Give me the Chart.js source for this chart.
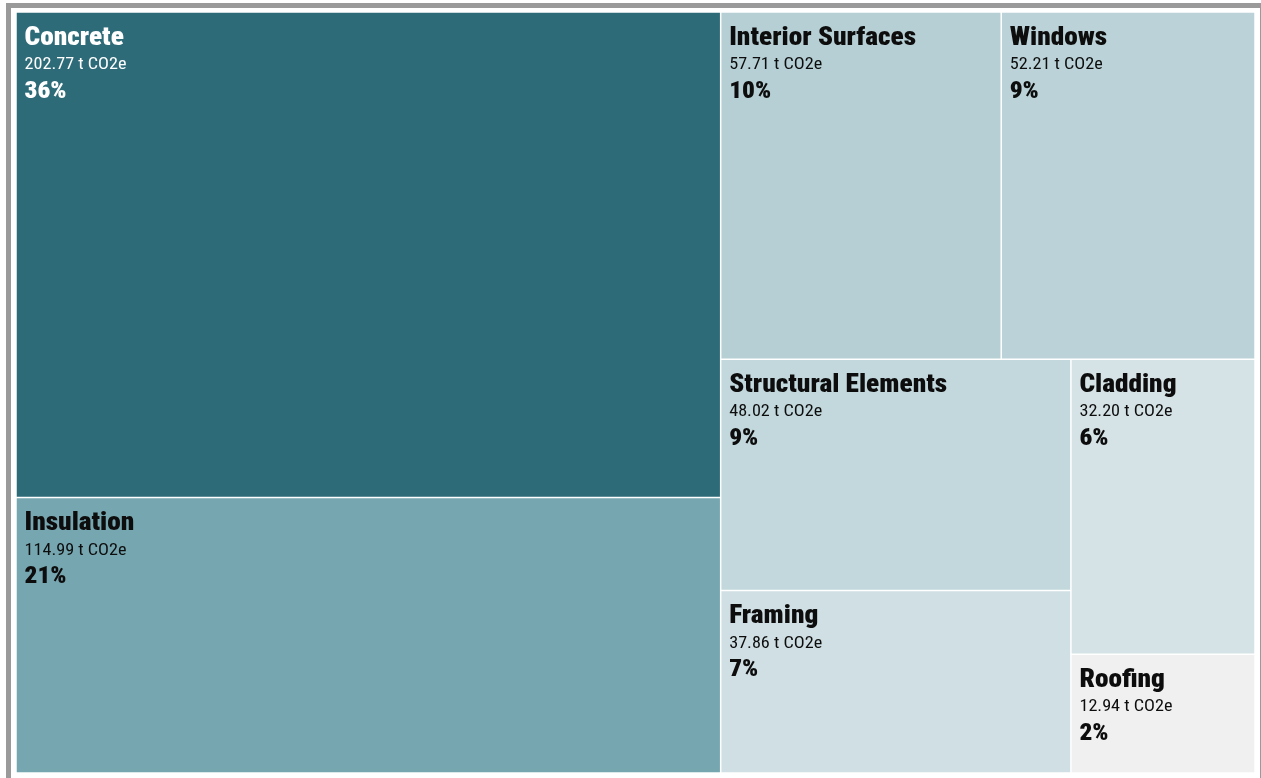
<!DOCTYPE html>
<html>
<head>
<meta charset="utf-8">
<title>Embodied carbon by material</title>
<script src="https://cdn.jsdelivr.net/npm/chart.js@4.4.1/dist/chart.umd.min.js"></script>
<style>
  html, body { margin: 0; padding: 0; background: #ffffff; overflow: hidden; width: 1261px; height: 778px; }
  #frame { position: absolute; left: 6px; top: 3px; width: 1259px; height: 800px; box-sizing: border-box; border: 5px solid #9a9a9a; }
  #wrap { position: absolute; left: 11px; top: 8px; width: 1249px; height: 770px; }
</style>
</head>
<body>
<div id="frame"></div>
<div id="wrap"><canvas id="chart"></canvas></div>
<script>
// ---- data ----
const categories = ['Concrete', 'Insulation', 'Interior Surfaces', 'Windows', 'Structural Elements', 'Framing', 'Cladding', 'Roofing'];
const emissions = [202.77, 114.99, 57.71, 52.21, 48.02, 37.86, 32.20, 12.94];
const unitLabel = 't CO2e';

// ---- styles ----
const cellColors = ['#2e6b79', '#76a7b1', '#b5cfd4', '#bbd3d8', '#c2d8dd', '#cfdfe3', '#d6e3e6', '#f0f0f0'];
const textColors = ['#ffffff', '#0d0d0d', '#0d0d0d', '#0d0d0d', '#0d0d0d', '#0d0d0d', '#0d0d0d', '#0d0d0d'];
const FONT = '"Roboto Condensed", "Roboto", "Liberation Sans Narrow", sans-serif';
const HEAVY = '900';
const GOLDEN = (1 + Math.sqrt(5)) / 2;

// d3-style squarified layout (ratio = golden ratio)
function squarify(values, x0, y0, x1, y1, ratio) {
  const n = values.length;
  const cells = new Array(n);
  let i0 = 0, i1 = 0;
  let value = values.reduce((a, b) => a + b, 0);
  while (i0 < n) {
    const dx = x1 - x0, dy = y1 - y0;
    let sumValue;
    do { sumValue = values[i1++]; } while (!sumValue && i1 < n);
    let minValue = sumValue, maxValue = sumValue;
    const alpha = Math.max(dy / dx, dx / dy) / (value * ratio);
    let beta = sumValue * sumValue * alpha;
    let minRatio = Math.max(maxValue / beta, beta / minValue);
    for (; i1 < n; ++i1) {
      const nv = values[i1];
      sumValue += nv;
      if (nv < minValue) minValue = nv;
      if (nv > maxValue) maxValue = nv;
      beta = sumValue * sumValue * alpha;
      const newRatio = Math.max(maxValue / beta, beta / minValue);
      if (newRatio > minRatio) { sumValue -= nv; break; }
      minRatio = newRatio;
    }
    if (dx < dy) {
      const ny = dy ? y0 + dy * sumValue / value : y1;
      let x = x0; const k = (x1 - x0) / sumValue;
      for (let i = i0; i < i1; i++) { const nx = x + values[i] * k; cells[i] = { x0: x, y0: y0, x1: nx, y1: ny }; x = nx; }
      y0 = ny;
    } else {
      const nx = dx ? x0 + dx * sumValue / value : x1;
      let y = y0; const k = (y1 - y0) / sumValue;
      for (let i = i0; i < i1; i++) { const ny = y + values[i] * k; cells[i] = { x0: x0, y0: y, x1: nx, y1: ny }; y = ny; }
      x0 = nx;
    }
    value -= sumValue; i0 = i1;
  }
  return cells;
}

let scaleCache = null;
function textScales(ctx) {
  if (scaleCache) return scaleCache;
  ctx.save();
  ctx.font = HEAVY + ' 26px ' + FONT;
  const wb = ctx.measureText('Interior Surfaces').width;
  ctx.font = '16px ' + FONT;
  const wr = ctx.measureText('202.77 t CO2e').width;
  ctx.restore();
  scaleCache = { bold: wb ? 187 / wb : 1, regular: wr ? 102 / wr : 1 };
  return scaleCache;
}

function drawText(ctx, text, x, y, font, color, sx) {
  ctx.save();
  ctx.font = font;
  ctx.fillStyle = color;
  ctx.textAlign = 'left';
  ctx.textBaseline = 'alphabetic';
  ctx.translate(x, y);
  ctx.scale(sx, 1);
  ctx.fillText(text, 0, 0);
  ctx.restore();
}

class TreemapController extends Chart.DatasetController {
  parse(start, count) {
    const meta = this._cachedMeta;
    const data = this.getDataset().data;
    for (let i = start; i < start + count; i++) {
      meta._parsed[i] = { x: i, y: +data[i] };
    }
  }
  getMinMax(scale) {
    return { min: 0, max: 1 };
  }
  update(mode) {
    const meta = this._cachedMeta;
    this.updateElements(meta.data, 0, meta.data.length, mode);
  }
  updateElements(elements, start, count, mode) {
    const meta = this._cachedMeta;
    const xs = meta.xScale, ys = meta.yScale;
    if (!xs || !ys) return;
    const values = this.getDataset().data.map(Number);
    const w = Math.abs(xs.getPixelForValue(1) - xs.getPixelForValue(0));
    const h = Math.abs(ys.getPixelForValue(1) - ys.getPixelForValue(0));
    const aspect = (w && h) ? w / h : 1;
    const cells = squarify(values, 0, 0, aspect, 1, GOLDEN);
    for (let i = start; i < start + count; i++) {
      const c = cells[i];
      const px0 = xs.getPixelForValue(c.x0 / aspect), px1 = xs.getPixelForValue(c.x1 / aspect);
      const py0 = ys.getPixelForValue(c.y0), py1 = ys.getPixelForValue(c.y1);
      const options = this.resolveDataElementOptions(i, mode);
      this.updateElement(elements[i], i, {
        x: (px0 + px1) / 2,
        y: Math.min(py0, py1),
        base: Math.max(py0, py1),
        width: Math.abs(px1 - px0),
        height: Math.abs(py1 - py0),
        horizontal: false,
        borderSkipped: {},
        enableBorderRadius: false,
        inflateAmount: 0,
        options
      }, mode);
    }
  }
  draw() {
    super.draw();
    const ctx = this._ctx;
    const meta = this._cachedMeta;
    const ds = this.getDataset();
    const labels = this.chart.data.labels;
    const total = ds.data.reduce((a, b) => a + b, 0);
    const sc = textScales(ctx);
    meta.data.forEach((el, i) => {
      const left = el.x - el.width / 2;
      const top = el.y;
      const color = textColors[i];
      const v = ds.data[i];
      drawText(ctx, labels[i], left + 8.5, top + 32.5, HEAVY + ' 26px ' + FONT, color, sc.bold);
      drawText(ctx, v.toFixed(2) + ' ' + unitLabel, left + 8.5, top + 57, '16px ' + FONT, color, sc.regular);
      drawText(ctx, Math.round(v / total * 100) + '%', left + 8.5, top + 85.5, HEAVY + ' 24px ' + FONT, color, sc.bold);
    });
  }
}
TreemapController.id = 'treemap';
TreemapController.defaults = { datasetElementType: false, dataElementType: 'bar' };
Chart.register(TreemapController);

new Chart(document.getElementById('chart'), {
  type: 'treemap',
  data: {
    labels: categories,
    datasets: [{
      label: 'Embodied carbon',
      data: emissions,
      backgroundColor: cellColors,
      borderColor: '#ffffff',
      borderWidth: 0.75
    }]
  },
  options: {
    responsive: true,
    maintainAspectRatio: false,
    animation: false,
    events: [],
    layout: { padding: { left: 5, right: 5, top: 4, bottom: 5 } },
    scales: {
      x: { type: 'linear', min: 0, max: 1, display: false },
      y: { type: 'linear', min: 0, max: 1, reverse: true, display: false }
    },
    plugins: { legend: { display: false }, tooltip: { enabled: false } }
  }
});
</script>
</body>
</html>
